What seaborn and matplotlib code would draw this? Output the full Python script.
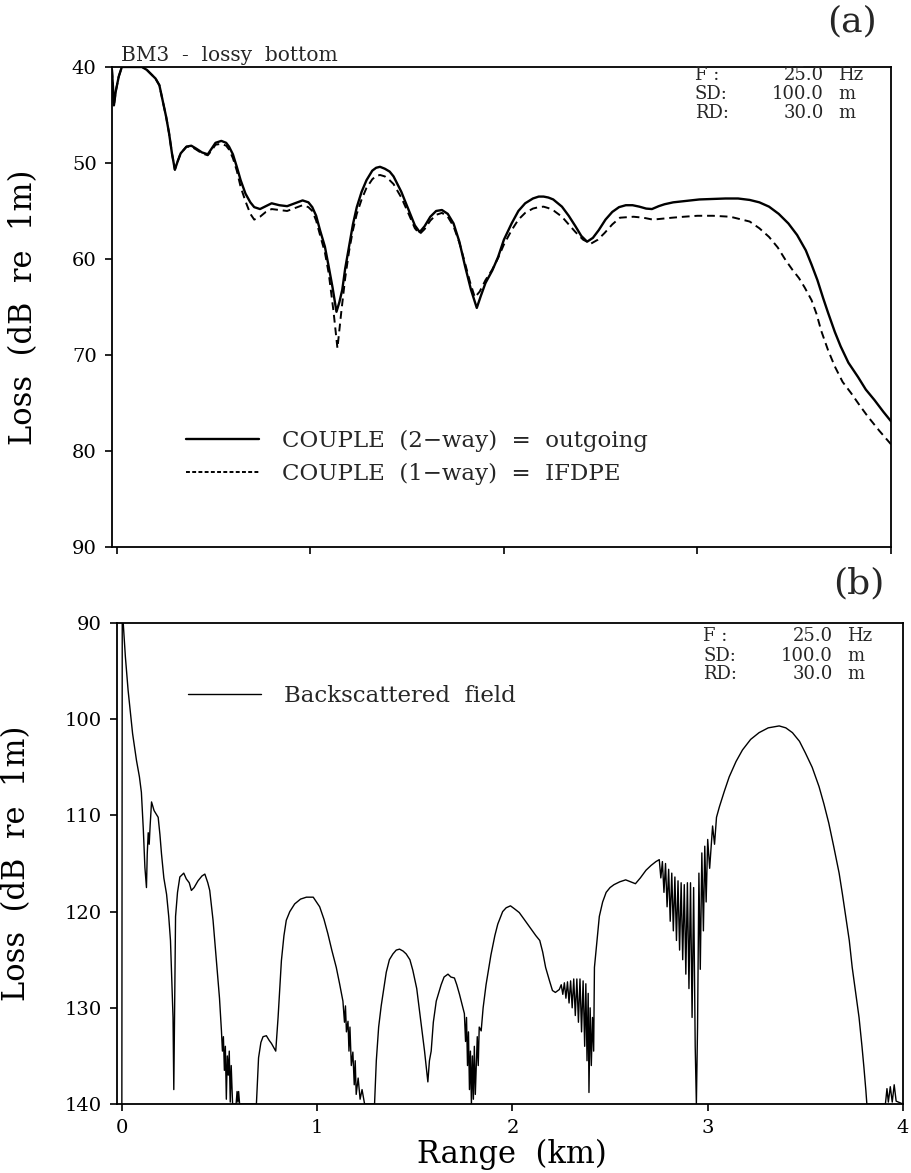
import numpy as np
import matplotlib
matplotlib.use("Agg")
import matplotlib.pyplot as plt
import seaborn as sns

# ==========================================
# DATA
# ==========================================
# (a) outgoing field, COUPLE 2-way (solid)
out_range = [-0.025, -0.02, -0.015, -0.005, 0.01, 0.026, 0.13, 0.155, 0.18, 0.20,
             0.22, 0.24, 0.255, 0.27, 0.285, 0.30, 0.315, 0.33, 0.36, 0.385,
             0.41, 0.44, 0.47, 0.49, 0.51, 0.54, 0.565, 0.58, 0.60, 0.62,
             0.64, 0.665, 0.69, 0.71, 0.74, 0.77, 0.80, 0.84, 0.88, 0.92,
             0.96, 0.99, 1.01, 1.03, 1.05, 1.075, 1.095, 1.115, 1.135, 1.15,
             1.165, 1.18, 1.20, 1.22, 1.24, 1.265, 1.29, 1.32, 1.34, 1.36,
             1.385, 1.41, 1.43, 1.47, 1.51, 1.54, 1.565, 1.59, 1.62, 1.65,
             1.68, 1.71, 1.74, 1.77, 1.80, 1.83, 1.86, 1.88, 1.905, 1.94,
             1.97, 2.00, 2.04, 2.075, 2.11, 2.15, 2.18, 2.205, 2.23, 2.255,
             2.30, 2.335, 2.37, 2.40, 2.43, 2.46, 2.49, 2.525, 2.56, 2.595,
             2.63, 2.665, 2.70, 2.735, 2.765, 2.80, 2.83, 2.875, 2.92, 2.96,
             3.01, 3.08, 3.145, 3.21, 3.27, 3.32, 3.37, 3.42, 3.47, 3.515,
             3.56, 3.59, 3.62, 3.65, 3.675, 3.71, 3.74, 3.78, 3.83, 3.87,
             3.915, 3.96, 4.0]
out_loss = [40.3, 42.0, 44.0, 42.5, 41.0, 40.0, 40.0, 40.3, 40.8, 41.2,
            41.9, 43.8, 45.2, 46.9, 49.0, 50.7, 49.8, 49.0, 48.3, 48.2,
            48.5, 48.9, 49.1, 48.5, 47.9, 47.7, 47.9, 48.3, 49.1, 50.4,
            51.8, 53.2, 54.1, 54.6, 54.8, 54.5, 54.2, 54.4, 54.5, 54.2,
            53.9, 54.1, 54.6, 55.5, 57.0, 58.7, 60.8, 63.0, 65.5, 64.5,
            63.2, 61.0, 58.7, 56.4, 54.6, 53.0, 51.8, 50.8, 50.5, 50.4,
            50.6, 50.9, 51.4, 53.0, 55.0, 56.5, 57.2, 56.6, 55.6, 55.0,
            54.9, 55.3, 56.3, 58.2, 60.8, 63.2, 65.1, 63.9, 62.5, 61.2,
            59.8, 58.0, 56.3, 55.0, 54.2, 53.7, 53.5, 53.5, 53.6, 53.8,
            54.55, 55.5, 56.6, 57.6, 58.2, 57.8, 57.0, 55.9, 55.1, 54.6,
            54.4, 54.4, 54.55, 54.75, 54.8, 54.5, 54.3, 54.1, 54.0, 53.9,
            53.8, 53.75, 53.7, 53.7, 53.85, 54.1, 54.55, 55.3, 56.3, 57.5,
            59.1, 60.6, 62.2, 64.1, 65.6, 67.6, 69.1, 70.8, 72.3, 73.6,
            74.7, 75.9, 76.9]

# (a) IFDPE, COUPLE 1-way (dashed)
ifd_range = [-0.025, -0.02, -0.015, -0.005, 0.01, 0.026, 0.13, 0.155, 0.18, 0.20,
             0.22, 0.24, 0.255, 0.27, 0.285, 0.30, 0.315, 0.33, 0.36, 0.385,
             0.41, 0.44, 0.47, 0.49, 0.51, 0.54, 0.565, 0.58, 0.60, 0.62,
             0.64, 0.665, 0.69, 0.71, 0.74, 0.77, 0.80, 0.84, 0.88, 0.92,
             0.96, 0.99, 1.01, 1.03, 1.05, 1.075, 1.095, 1.12, 1.14, 1.16,
             1.18, 1.20, 1.22, 1.24, 1.265, 1.29, 1.32, 1.34, 1.36, 1.385,
             1.41, 1.43, 1.47, 1.51, 1.54, 1.565, 1.59, 1.62, 1.65, 1.68,
             1.71, 1.74, 1.77, 1.80, 1.825, 1.85, 1.875, 1.905, 1.94, 1.97,
             2.00, 2.04, 2.075, 2.11, 2.15, 2.18, 2.205, 2.23, 2.26, 2.30,
             2.335, 2.37, 2.41, 2.45, 2.485, 2.52, 2.56, 2.60, 2.67, 2.72,
             2.77, 2.82, 2.87, 2.93, 3.0, 3.08, 3.17, 3.27, 3.32, 3.37,
             3.415, 3.455, 3.49, 3.525, 3.555, 3.59, 3.615, 3.64, 3.675, 3.71,
             3.75, 3.795, 3.84, 3.88, 3.94, 4.0]
ifd_loss = [40.3, 42.0, 44.0, 42.5, 41.0, 40.0, 40.0, 40.3, 40.8, 41.2,
            41.9, 43.8, 45.2, 46.9, 49.0, 50.7, 49.8, 49.0, 48.3, 48.3,
            48.6, 49.0, 49.2, 48.7, 48.1, 48.0, 48.2, 48.6, 49.5, 50.8,
            52.5, 54.0, 55.3, 55.9, 55.6, 55.1, 54.8, 54.9, 55.0, 54.7,
            54.4, 54.6, 55.0, 56.0, 57.5, 59.3, 61.5, 65.5, 69.3, 65.5,
            62.0, 59.2, 57.0, 55.3, 53.8, 52.6, 51.7, 51.35, 51.25, 51.4,
            51.8, 52.2, 53.6, 55.4, 56.8, 57.4, 56.9, 56.0, 55.4, 55.2,
            55.6, 56.6, 58.3, 60.5, 62.4, 64.0, 63.4, 62.2, 61.1, 59.9,
            58.5, 57.0, 55.9, 55.2, 54.75, 54.6, 54.55, 54.7, 55.0, 55.6,
            56.4, 57.2, 58.0, 58.4, 58.0, 57.3, 56.4, 55.7, 55.6, 55.7,
            55.9, 55.8, 55.7, 55.6, 55.5, 55.5, 55.6, 56.1, 56.8, 57.7,
            58.8, 60.1, 61.1, 62.0, 63.0, 64.3, 65.7, 67.5, 69.5, 71.2,
            72.8, 74.0, 75.3, 76.4, 77.9, 79.3]

# (b) backscattered field
back_range = [0.0, 0.002, 0.007, 0.018, 0.032, 0.045, 0.055, 0.075, 0.09, 0.10,
              0.11, 0.118, 0.126, 0.13, 0.135, 0.14, 0.145, 0.152, 0.165, 0.186,
              0.195, 0.203, 0.215, 0.229, 0.24, 0.249, 0.262, 0.266, 0.27, 0.275,
              0.285, 0.297, 0.317, 0.33, 0.345, 0.356, 0.37, 0.39, 0.41, 0.425,
              0.44, 0.45, 0.467, 0.484, 0.50, 0.51, 0.515, 0.52, 0.525, 0.53,
              0.535, 0.54, 0.545, 0.55, 0.555, 0.56, 0.567, 0.585, 0.59, 0.594,
              0.598, 0.603, 0.689, 0.70, 0.712, 0.723, 0.74, 0.755, 0.766, 0.78,
              0.788, 0.80, 0.817, 0.83, 0.842, 0.86, 0.885, 0.915, 0.945, 0.98,
              1.013, 1.035, 1.055, 1.075, 1.098, 1.115, 1.132, 1.14, 1.145, 1.15,
              1.158, 1.163, 1.168, 1.175, 1.183, 1.19, 1.195, 1.20, 1.21, 1.22,
              1.23, 1.243, 1.294, 1.303, 1.315, 1.328, 1.354, 1.37, 1.388, 1.405,
              1.422, 1.44, 1.456, 1.475, 1.49, 1.51, 1.524, 1.54, 1.55, 1.567,
              1.575, 1.584, 1.595, 1.61, 1.635, 1.65, 1.67, 1.685, 1.703, 1.715,
              1.729, 1.74, 1.754, 1.76, 1.765, 1.77, 1.775, 1.78, 1.785, 1.79,
              1.795, 1.80, 1.805, 1.81, 1.814, 1.82, 1.825, 1.83, 1.84, 1.85,
              1.865, 1.89, 1.91, 1.925, 1.95, 1.968, 1.99, 2.01, 2.035, 2.06,
              2.095, 2.12, 2.14, 2.155, 2.17, 2.19, 2.205, 2.22, 2.24, 2.25,
              2.258, 2.266, 2.274, 2.282, 2.29, 2.298, 2.306, 2.314, 2.322, 2.33,
              2.338, 2.346, 2.354, 2.362, 2.37, 2.376, 2.382, 2.388, 2.392, 2.398,
              2.404, 2.41, 2.416, 2.42, 2.445, 2.462, 2.48, 2.50, 2.52, 2.55,
              2.58, 2.605, 2.63, 2.655, 2.684, 2.71, 2.735, 2.752, 2.76, 2.768,
              2.776, 2.784, 2.792, 2.80, 2.808, 2.816, 2.824, 2.832, 2.84, 2.848,
              2.856, 2.864, 2.872, 2.88, 2.888, 2.896, 2.904, 2.912, 2.92, 2.928,
              2.936, 2.942, 2.948, 2.955, 2.962, 2.97, 2.978, 2.985, 2.992, 3.0,
              3.01, 3.025, 3.035, 3.045, 3.06, 3.085, 3.11, 3.145, 3.178, 3.22,
              3.263, 3.31, 3.366, 3.40, 3.434, 3.47, 3.50, 3.535, 3.57, 3.595,
              3.62, 3.645, 3.673, 3.69, 3.707, 3.725, 3.74, 3.758, 3.775, 3.79,
              3.80, 3.81, 3.815, 3.91, 3.918, 3.925, 3.935, 3.945, 3.955, 3.965,
              4.0]
back_loss = [140.0, 90.0, 90.0, 93.5, 97.0, 99.5, 101.5, 104.3, 106.0, 107.6,
             111.5, 115.4, 117.5, 114.0, 111.8, 113.0, 111.0, 108.6, 109.5, 110.2,
             112.0, 114.0, 116.5, 118.2, 120.5, 123.0, 131.0, 138.5, 130.0, 120.5,
             118.0, 116.4, 116.0, 116.6, 117.0, 117.8, 117.5, 116.8, 116.3, 116.1,
             117.0, 117.8, 120.9, 125.1, 129.0, 132.4, 134.5, 133.0, 136.5, 134.0,
             139.5, 135.0, 137.0, 134.5, 139.8, 136.0, 140.0, 140.0, 138.7, 139.8,
             138.7, 140.0, 140.0, 135.2, 133.6, 133.0, 132.9, 133.4, 133.7, 134.2,
             134.5, 131.0, 125.1, 122.5, 120.9, 120.0, 119.2, 118.7, 118.5, 118.5,
             119.5, 120.8, 122.3, 124.0, 125.8, 127.5, 129.3, 131.5, 129.8, 132.5,
             131.4, 134.5, 132.0, 136.0, 134.6, 138.0, 135.5, 139.0, 137.3, 139.5,
             138.5, 140.0, 140.0, 135.5, 132.0, 129.8, 126.3, 125.0, 124.4, 124.0,
             123.9, 124.1, 124.4, 125.0, 126.1, 128.0, 130.3, 133.0, 134.5, 137.7,
             135.5, 134.5, 131.5, 129.3, 127.6, 126.8, 126.5, 126.8, 126.9, 127.6,
             128.6, 129.5, 130.6, 133.5, 131.0, 136.0, 132.5, 138.5, 134.5, 140.0,
             135.0, 139.5, 134.0, 139.0, 136.5, 133.0, 136.0, 132.0, 132.4, 130.0,
             127.6, 124.5, 122.5, 121.3, 120.0, 119.6, 119.4, 119.7, 120.1, 120.8,
             121.8, 122.5, 123.0, 124.2, 125.8, 127.2, 128.2, 128.4, 128.1, 127.6,
             128.6, 127.4, 129.0, 127.3, 129.5, 127.2, 130.0, 127.0, 130.8, 127.0,
             131.5, 127.0, 132.5, 127.2, 134.0, 127.5, 135.5, 128.5, 138.8, 130.0,
             136.0, 131.0, 134.5, 125.8, 120.5, 119.0, 118.0, 117.5, 117.2, 116.9,
             116.7, 116.9, 117.1, 116.5, 115.7, 115.2, 114.8, 114.6, 116.5, 114.8,
             118.0, 115.0, 119.5, 115.6, 121.0, 116.0, 122.0, 116.4, 123.0, 116.8,
             124.0, 117.0, 125.0, 117.2, 126.5, 117.0, 128.0, 117.0, 131.0, 117.5,
             134.0, 140.0, 132.0, 116.0, 126.0, 113.9, 122.0, 113.2, 119.0, 112.5,
             115.5, 111.1, 113.0, 110.2, 109.1, 107.5, 106.0, 104.4, 103.2, 102.1,
             101.4, 100.9, 100.7, 100.9, 101.4, 102.3, 103.5, 105.0, 107.0, 108.8,
             110.8, 113.2, 116.0, 118.2, 120.5, 123.0, 125.8, 128.5, 131.0, 134.0,
             136.2, 138.6, 140.0, 140.0, 138.4, 139.8, 138.2, 139.8, 138.0, 139.7,
             140.0]

info_keys = ["F :", "SD:", "RD:"]
info_vals = ["25.0", "100.0", "30.0"]
info_units = ["Hz", "m", "m"]
range_ticks = [0, 1, 2, 3, 4]

# ==========================================
# STYLE
# ==========================================
sns.set_theme(style="ticks")
plt.rcParams['font.family'] = ['DejaVu Serif']
plt.rcParams['axes.linewidth'] = 1.3
plt.rcParams['xtick.major.width'] = 1.2
plt.rcParams['ytick.major.width'] = 1.2

fig = plt.figure(figsize=(9.11, 11.73), dpi=100)
ax1 = fig.add_axes([0.1229, 0.5337, 0.8551, 0.4092])
ax2 = fig.add_axes([0.1284, 0.0588, 0.8628, 0.4101])


def info_box(ax, x_key, x_val, x_unit, rows_y):
    for k, v, u, y in zip(info_keys, info_vals, info_units, rows_y):
        ax.text(x_key, y, k, transform=ax.transAxes, fontsize=13, va='center', ha='left')
        ax.text(x_val, y, v, transform=ax.transAxes, fontsize=13, va='center', ha='right')
        ax.text(x_unit, y, u, transform=ax.transAxes, fontsize=13, va='center', ha='left')


def style_axes(ax, ylim, yticks):
    ax.set_xlim(-0.025, 4.0)
    ax.set_ylim(ylim)
    ax.set_xticks(range_ticks)
    ax.set_yticks(yticks)
    for s in ax.spines.values():
        s.set_visible(True)
        s.set_color('black')
    ax.tick_params(axis='both', direction='out', length=5, colors='black',
                   labelsize=14, pad=6)
    ax.set_ylabel("Loss  (dB  re  1m)", fontsize=22, color='black')


# ==========================================
# (a) OUTGOING FIELD
# ==========================================
sns.lineplot(x=out_range, y=out_loss, ax=ax1, color='black', lw=1.7,
             estimator=None, sort=False, label="COUPLE  (2−way)  =  outgoing")
sns.lineplot(x=ifd_range, y=ifd_loss, ax=ax1, color='black', lw=1.4,
             estimator=None, sort=False, linestyle=(0, (4, 2.5)),
             label="COUPLE  (1−way)  =  IFDPE")
style_axes(ax1, (90, 40), [40, 50, 60, 70, 80, 90])
ax1.set_xticklabels([])
ax1.set_xlabel("")
ax1.yaxis.set_label_coords(-0.093, 0.5)
leg1 = ax1.legend(loc='upper left', bbox_to_anchor=(0.095, 0.244), frameon=False,
                  fontsize=16.5, handlelength=3.2, handletextpad=1.0,
                  labelspacing=0.5, borderpad=0, borderaxespad=0)
leg1.get_lines()[1].set_linestyle((0, (2, 1.2)))
ax1.text(0.012, 1.004, "BM3  -  lossy  bottom", transform=ax1.transAxes,
         fontsize=14.5, ha='left', va='bottom')
info_box(ax1, 0.748, 0.914, 0.932, [0.983, 0.944, 0.904])

# ==========================================
# (b) BACKSCATTERED FIELD
# ==========================================
sns.lineplot(x=back_range, y=back_loss, ax=ax2, color='black', lw=1.0,
             estimator=None, sort=False, label="Backscattered  field")
style_axes(ax2, (140, 90), [90, 100, 110, 120, 130, 140])
ax2.set_xticklabels([str(t) for t in range_ticks])
ax2.set_xlabel("Range  (km)", fontsize=22, color='black')
ax2.xaxis.set_label_coords(0.503, -0.072)
ax2.yaxis.set_label_coords(-0.108, 0.5)
ax2.legend(loc='upper left', bbox_to_anchor=(0.090, 0.871), frameon=False,
           fontsize=16.5, handlelength=3.2, handletextpad=1.0,
           borderpad=0, borderaxespad=0)
info_box(ax2, 0.746, 0.911, 0.929, [0.972, 0.932, 0.893])

fig.text(0.963, 0.996, "(a)", fontsize=26, ha='right', va='top')
fig.text(0.971, 0.517, "(b)", fontsize=26, ha='right', va='top')

fig.savefig("out.png", dpi=100, facecolor='white')
